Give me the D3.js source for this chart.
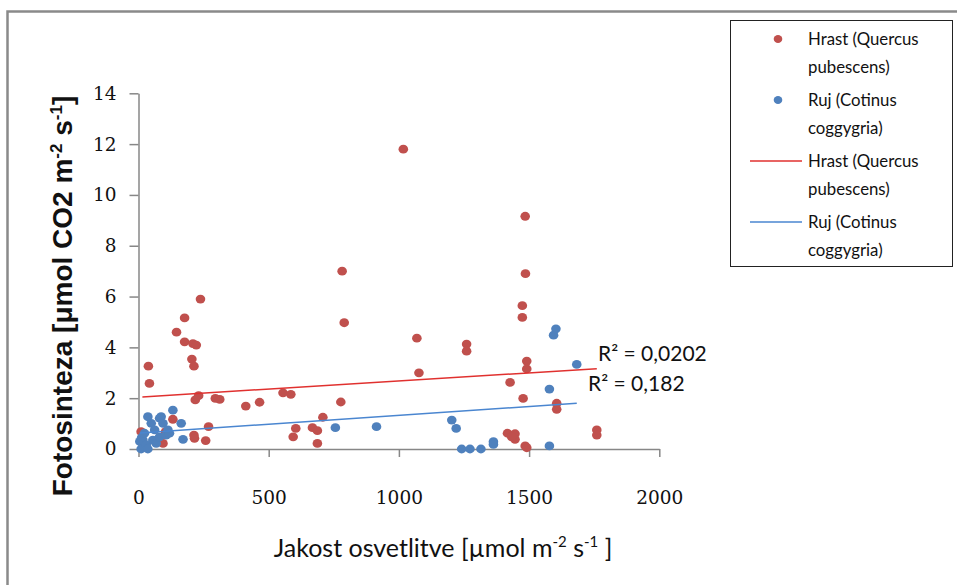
<!DOCTYPE html>
<html>
<head>
<meta charset="utf-8">
<script src="https://cdn.jsdelivr.net/npm/d3@7"></script>
<style>
  html, body { margin: 0; padding: 0; background: #fff; }
  svg { display: block; }
</style>
</head>
<body>
<svg id="chart" width="957" height="585"></svg>
<script>
// ---- data ----
const hrastX = [10, 38, 42, 94, 104, 132, 146, 177, 177, 209, 222, 205, 213, 231, 218, 213, 215, 238, 269, 258, 295, 312, 412, 465, 555, 585, 594, 604, 668, 687, 687, 708, 777, 782, 790, 1017, 1069, 1077, 1260, 1260, 1417, 1440, 1446, 1446, 1433, 1427, 1474, 1474, 1477, 1485, 1486, 1491, 1491, 1485, 1491, 1606, 1606, 1760, 1760];
const hrastY = [0.68, 3.26, 2.58, 0.22, 0.68, 1.17, 4.6, 5.16, 4.22, 4.15, 4.09, 3.54, 3.26, 2.10, 1.93, 0.55, 0.42, 5.9, 0.88, 0.33, 1.99, 1.95, 1.69, 1.84, 2.21, 2.15, 0.48, 0.81, 0.84, 0.72, 0.22, 1.25, 1.85, 7.0, 4.97, 11.8, 4.36, 3.0, 4.13, 3.85, 0.62, 0.55, 0.6, 0.38, 0.48, 2.62, 5.64, 5.18, 1.99, 9.16, 6.9, 3.46, 3.15, 0.12, 0.05, 1.80, 1.56, 0.75, 0.55];
const rujX = [5, 10, 12, 17, 23, 30, 36, 36, 49, 55, 62, 68, 81, 81, 87, 94, 106, 113, 119, 132, 164, 171, 756, 914, 1203, 1220, 1241, 1273, 1315, 1363, 1363, 1578, 1578, 1594, 1603, 1683];
const rujY = [0.3, 0.0, 0.45, 0.35, 0.62, 0.16, 1.27, 0.0, 1.01, 0.35, 0.75, 0.22, 1.21, 0.48, 1.27, 1.01, 0.55, 0.75, 0.62, 1.53, 1.01, 0.38, 0.84, 0.88, 1.14, 0.81, 0.0, 0.0, 0.0, 0.29, 0.18, 0.12, 2.36, 4.48, 4.73, 3.33];
const trendHrastX = [15, 1760];
const trendHrastY = [2.05, 3.16];
const trendRujX = [5, 1683];
const trendRujY = [0.63, 1.80];
const xTicks = [0, 500, 1000, 1500, 2000];
const yTicks = [0, 2, 4, 6, 8, 10, 12, 14];
const seriesNames = ["Hrast (Quercus", "pubescens)", "Ruj (Cotinus", "coggygria)"];
const r2Labels = ["R² = 0,0202", "R² = 0,182"];

// ---- drawing ----
const svg = d3.select("#chart");
const redDot = "#C0504D", blueDot = "#4F81BD";
const redLine = "#E0312F", blueLine = "#4A86D0";
const axisCol = "#878787";

svg.append("rect").attr("width", 957).attr("height", 585).attr("fill", "#fff");
// outer chart border (left and top visible)
svg.append("path").attr("d", "M7.5,585 V11.5 H957").attr("fill", "none")
  .attr("stroke", "#8a8a8a").attr("stroke-width", 2.5);

const x = d3.scaleLinear().domain([0, 2000]).range([138.5, 659.3]);
const y = d3.scaleLinear().domain([0, 14]).range([449, 93.3]);

// axes
const gy = svg.append("g").attr("transform", `translate(${x(0)},0)`)
  .call(d3.axisLeft(y).tickValues(yTicks).tickSize(9).tickSizeOuter(0).tickPadding(13).tickFormat(d3.format("d")));
const gx = svg.append("g").attr("transform", `translate(0,${y(0)})`)
  .call(d3.axisBottom(x).tickValues(xTicks).tickSize(8).tickSizeOuter(0).tickPadding(34).tickFormat(d3.format("d")));
[gx, gy].forEach(g => {
  g.select(".domain").attr("stroke", axisCol).attr("stroke-width", 1.5);
  g.selectAll(".tick line").attr("stroke", axisCol).attr("stroke-width", 1.5);
  g.selectAll(".tick text").attr("fill", "#111").style("font-family", "'DejaVu Serif', serif").style("font-size", "18.5px");
});

// points
function dots(xs, ys, col) {
  svg.append("g").selectAll("ellipse").data(xs.map((v, i) => [v, ys[i]])).join("ellipse")
    .attr("cx", d => x(d[0])).attr("cy", d => y(d[1]))
    .attr("rx", 4.8).attr("ry", 4.4).attr("fill", col);
}
dots(hrastX, hrastY, redDot);
dots(rujX, rujY, blueDot);

// trend lines
const line = d3.line().x(d => x(d[0])).y(d => y(d[1]));
svg.append("path").datum(trendHrastX.map((v, i) => [v, trendHrastY[i]]))
  .attr("d", line).attr("fill", "none").attr("stroke", redLine).attr("stroke-width", 1.5);
svg.append("path").datum(trendRujX.map((v, i) => [v, trendRujY[i]]))
  .attr("d", line).attr("fill", "none").attr("stroke", blueLine).attr("stroke-width", 1.5);

// R² labels
const lblFont = "Lato, 'Open Sans', sans-serif";
svg.append("text").attr("x", 598).attr("y", 361).text(r2Labels[0])
  .style("font-family", lblFont).style("font-size", "21px").attr("fill", "#111");
svg.append("text").attr("x", 588).attr("y", 391).text(r2Labels[1])
  .style("font-family", lblFont).style("font-size", "21px").attr("fill", "#111");

// axis titles
const xt = svg.append("text").attr("x", 443).attr("y", 557).attr("text-anchor", "middle")
  .style("font-family", lblFont).style("font-size", "25px").attr("fill", "#111");
xt.append("tspan").text("Jakost osvetlitve [µmol m");
xt.append("tspan").text("-2").attr("dy", -10).style("font-size", "15px");
xt.append("tspan").text(" s").attr("dy", 10);
xt.append("tspan").text("-1").attr("dy", -10).style("font-size", "15px");
xt.append("tspan").text(" ]").attr("dy", 10);

const yt = svg.append("text").attr("transform", "translate(72,296) rotate(-90)").attr("text-anchor", "middle")
  .style("font-family", "'Liberation Sans', Arial, sans-serif").style("font-weight", "bold").style("font-size", "28px").attr("fill", "#111");
yt.append("tspan").text("Fotosinteza [μmol CO2 m");
yt.append("tspan").text("-2").attr("dy", -10).style("font-size", "17px");
yt.append("tspan").text(" s").attr("dy", 10);
yt.append("tspan").text("-1").attr("dy", -10).style("font-size", "17px");
yt.append("tspan").text("]").attr("dy", 10);

// legend
const lg = svg.append("g");
lg.append("rect").attr("x", 730.5).attr("y", 20.5).attr("width", 222).attr("height", 246)
  .attr("fill", "#fff").attr("stroke", "#222").attr("stroke-width", 1);
const legY = [39, 67, 100, 128, 161, 189, 222, 250];
const legendFont = { family: lblFont, size: "16.8px" };
const legTexts = seriesNames.concat(seriesNames);
legTexts.forEach((t, i) => {
  lg.append("text").attr("x", 808).attr("y", legY[i]).attr("dy", "0.35em").text(t)
    .style("font-family", legendFont.family).style("font-size", legendFont.size).attr("fill", "#111");
});
lg.append("ellipse").attr("cx", 778).attr("cy", legY[0]).attr("rx", 4.3).attr("ry", 4).attr("fill", redDot);
lg.append("ellipse").attr("cx", 778).attr("cy", legY[2]).attr("rx", 4.3).attr("ry", 4).attr("fill", blueDot);
lg.append("line").attr("x1", 750).attr("x2", 802).attr("y1", legY[4]).attr("y2", legY[4]).attr("stroke", redLine).attr("stroke-width", 1.5);
lg.append("line").attr("x1", 750).attr("x2", 802).attr("y1", legY[6]).attr("y2", legY[6]).attr("stroke", blueLine).attr("stroke-width", 1.5);
</script>
</body>
</html>
